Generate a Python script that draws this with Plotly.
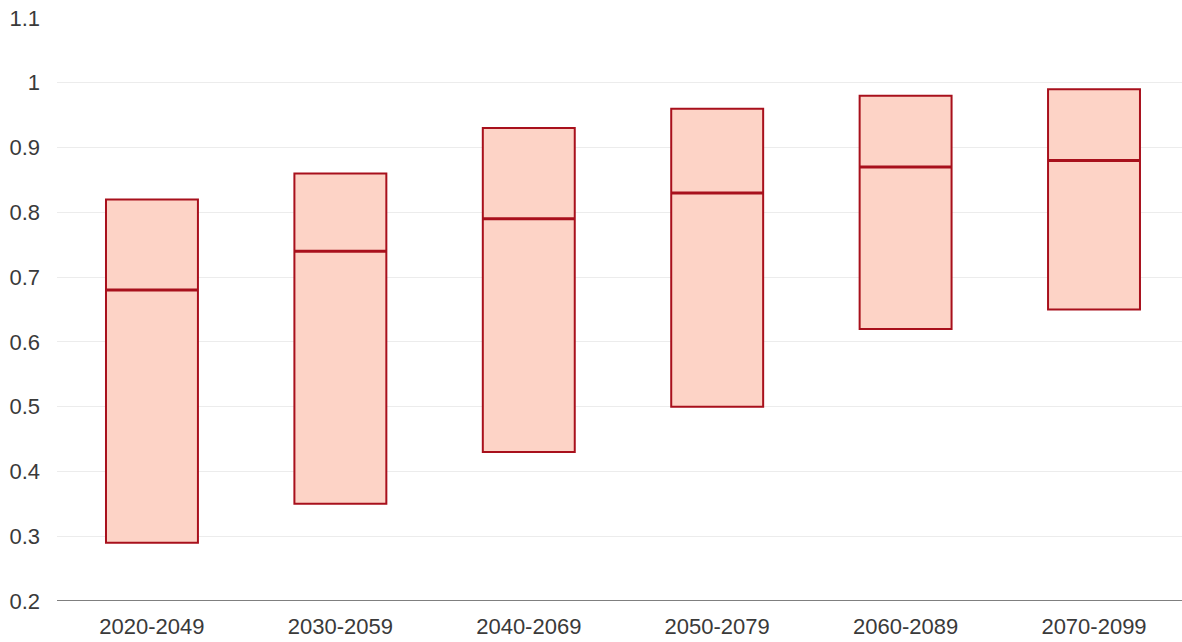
import plotly.graph_objects as go

periods = ["2020-2049", "2030-2059", "2040-2069", "2050-2079", "2060-2089", "2070-2099"]
low = [0.29, 0.35, 0.43, 0.50, 0.62, 0.65]
median = [0.68, 0.74, 0.79, 0.83, 0.87, 0.88]
high = [0.82, 0.86, 0.93, 0.96, 0.98, 0.99]

BOX_W = 0.488
EDGE = "#a8101c"
FILL = "#fdd3c6"

xs = list(range(len(periods)))
fig = go.Figure()
fig.add_trace(go.Bar(
    x=xs, y=[h - l for h, l in zip(high, low)], base=low, width=BOX_W,
    marker=dict(color=FILL, line=dict(color=EDGE, width=2)),
    hoverinfo="skip", showlegend=False,
))
mx, my = [], []
for i, m in enumerate(median):
    mx += [i - BOX_W / 2, i + BOX_W / 2, None]
    my += [m, m, None]
fig.add_trace(go.Scatter(x=mx, y=my, mode="lines", line=dict(color=EDGE, width=3),
                         hoverinfo="skip", showlegend=False))

fig.update_layout(
    width=1182, height=642,
    margin=dict(l=57, r=0, t=18, b=41),
    paper_bgcolor="white", plot_bgcolor="white",
    font=dict(family="Liberation Sans, Arial, sans-serif", size=22, color="#3a3a3a"),
    xaxis=dict(range=[-0.504, 5.467], tickvals=xs, ticktext=periods, showgrid=False,
               zeroline=False, showline=False, ticks="", ticklabelstandoff=10,
               ticklabeloverflow="allow"),
    yaxis=dict(range=[0.2, 1.1], tickvals=[0.2, 0.3, 0.4, 0.5, 0.6, 0.7, 0.8, 0.9, 1.0, 1.1],
               ticktext=["0.2", "0.3", "0.4", "0.5", "0.6", "0.7", "0.8", "0.9", "1", "1.1"],
               showgrid=True, gridcolor="#ececec", gridwidth=1, zeroline=False,
               ticks="", ticklabelstandoff=16, ticklabeloverflow="allow"),
    shapes=[dict(type="line", xref="paper", yref="y", x0=0, x1=1, y0=0.2, y1=0.2,
                 line=dict(color="#555", width=1.5))],
)
fig.write_html("out.html", config={"displayModeBar": False},
               post_script="document.body.style.margin='0';document.body.style.overflow='hidden';")
